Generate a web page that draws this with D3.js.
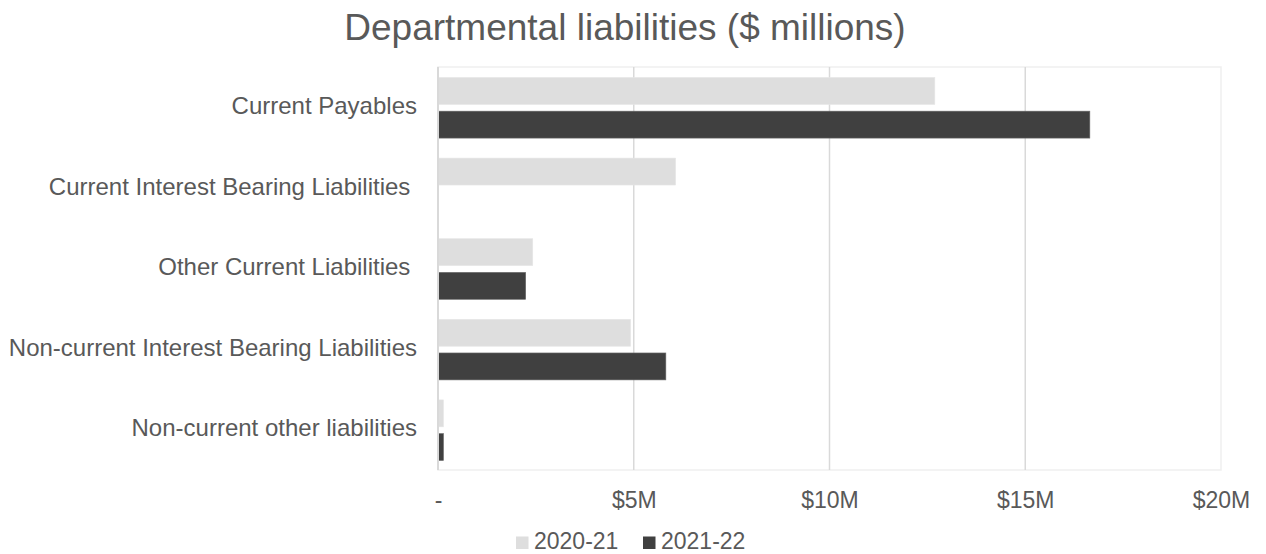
<!DOCTYPE html>
<html>
<head>
<meta charset="utf-8">
<script src="https://cdn.jsdelivr.net/npm/d3@7"></script>
<style>
  html, body { margin: 0; padding: 0; background: #ffffff; }
  svg { display: block; font-family: 'Liberation Sans', Arial, sans-serif; }
</style>
</head>
<body>
<svg id="chart" width="1266" height="554"></svg>
<script>
const categories = [
  "Current Payables",
  "Current Interest Bearing Liabilities\u00A0",
  "Other Current Liabilities\u00A0",
  "Non-current Interest Bearing Liabilities",
  "Non-current other liabilities"
];
const seriesNames = ["2020-21", "2021-22"];
const values2020 = [12.69, 6.07, 2.42, 4.92, 0.14];
const values2021 = [16.65, 0, 2.24, 5.82, 0.14];
const tickValues = [0, 5, 10, 15, 20];
const tickLabels = ["-", "$5M", "$10M", "$15M", "$20M"];
const colors = ["#dedede", "#404040"];
const title = "Departmental liabilities ($ millions)";

const svg = d3.select("#chart");
const plot = { left: 438, right: 1221, top: 67, bottom: 470 };
const textColor = "#595959";

const x = d3.scaleLinear().domain([0, 20]).range([plot.left, plot.right]);
const y0 = d3.scaleBand().domain(categories).range([plot.top, plot.bottom]).paddingInner(0).paddingOuter(0);
const y1 = d3.scaleBand().domain(seriesNames).range([10.5, y0.bandwidth() - 9.5]).paddingInner(0.2);

// Title
svg.append("text")
  .attr("x", 625).attr("y", 40)
  .attr("text-anchor", "middle")
  .attr("font-size", 37)
  .attr("fill", textColor)
  .text(title);

// Plot border
svg.append("rect")
  .attr("x", plot.left).attr("y", plot.top)
  .attr("width", plot.right - plot.left).attr("height", plot.bottom - plot.top)
  .attr("fill", "none").attr("stroke", "#efefef").attr("stroke-width", 1.5);

// Gridlines
svg.append("g").selectAll("line")
  .data(tickValues.filter(v => v > 0 && v < 20))
  .join("line")
  .attr("x1", d => x(d)).attr("x2", d => x(d))
  .attr("y1", plot.top).attr("y2", plot.bottom)
  .attr("stroke", "#d9d9d9").attr("stroke-width", 1.5);

// Bars
const data = categories.map((c, i) => ({ cat: c, vals: [values2020[i], values2021[i]] }));
const groups = svg.append("g").selectAll("g")
  .data(data).join("g")
  .attr("transform", d => `translate(0,${y0(d.cat)})`);
groups.selectAll("rect")
  .data(d => d.vals.map((v, j) => ({ s: seriesNames[j], v, j })))
  .join("rect")
  .filter(d => d.v > 0)
  .attr("x", x(0))
  .attr("y", d => y1(d.s))
  .attr("width", d => x(d.v) - x(0))
  .attr("height", y1.bandwidth())
  .attr("fill", d => colors[d.j])
  .attr("stroke", d => d.j === 1 ? "#6a6a6a" : "#e6e6e6")
  .attr("stroke-width", 0.6);

// Vertical axis line
svg.append("line")
  .attr("x1", x(0)).attr("x2", x(0))
  .attr("y1", plot.top).attr("y2", plot.bottom)
  .attr("stroke", "#d9d9d9").attr("stroke-width", 2);

// Category labels
svg.append("g").selectAll("text")
  .data(categories).join("text")
  .attr("x", 417)
  .attr("y", d => y0(d) + y0.bandwidth() / 2)
  .attr("dy", "0.28em")
  .attr("text-anchor", "end")
  .attr("font-size", 24)
  .attr("fill", textColor)
  .style("white-space", "pre")
  .text(d => d);

// X axis tick labels
const xAxis = d3.axisBottom(x).tickValues(tickValues)
  .tickFormat((d, i) => tickLabels[i]).tickSize(0).tickPadding(0);
const ax = svg.append("g").attr("transform", "translate(0,492)").call(xAxis);
ax.select(".domain").remove();
ax.selectAll("text")
  .attr("font-size", 23)
  .attr("font-family", "'Liberation Sans', Arial, sans-serif")
  .attr("fill", textColor)
  .attr("dy", "0.71em");

// Legend
const legendX = [516, 643];
const legend = svg.append("g").selectAll("g")
  .data(seriesNames).join("g")
  .attr("transform", (d, i) => `translate(${legendX[i]},536.5)`);
legend.append("rect")
  .attr("width", 12.5).attr("height", 12.5)
  .attr("fill", (d, i) => colors[i]);
legend.append("text")
  .attr("x", 18).attr("y", 12.5)
  .attr("font-size", 23)
  .attr("fill", textColor)
  .text(d => d);
</script>
</body>
</html>
